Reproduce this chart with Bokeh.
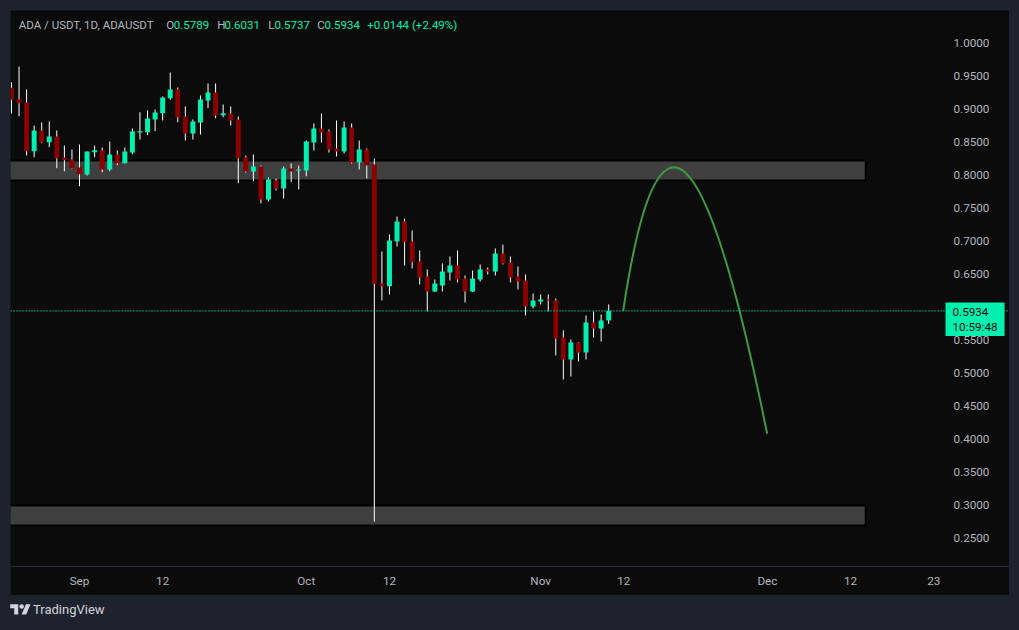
import numpy as np
import pandas as pd
from bokeh.plotting import figure
from bokeh.models import (ColumnDataSource, Range1d, FixedTicker, NumeralTickFormatter,
                          Label, Span, Div, GlobalInlineStyleSheet)
from bokeh.layouts import column
from bokeh.embed import file_html
from bokeh.resources import INLINE
from bokeh.core.properties import value

# ---------------- data ----------------
first_day = "2025-08-23"
opens = [0.9314, 0.9136, 0.9091, 0.8353, 0.8667, 0.8489, 0.8576, 0.8258, 0.8227,
         0.8106, 0.8000, 0.8338, 0.8364, 0.8076, 0.8303, 0.8171, 0.8333, 0.8636, 0.8641,
         0.8833, 0.8929, 0.9156, 0.9288, 0.8879, 0.8621, 0.8788, 0.9121, 0.9242, 0.8899,
         0.8924, 0.8829, 0.8258, 0.8045, 0.8121, 0.7621, 0.7909, 0.7788, 0.8091, 0.8061,
         0.8061, 0.8485, 0.8697, 0.8652, 0.8394, 0.8349, 0.8712, 0.8182, 0.8379, 0.8152,
         0.6348, 0.6308, 0.6985, 0.7288, 0.6985, 0.6682, 0.6455, 0.6227, 0.6318, 0.6515,
         0.6621, 0.6424, 0.6227, 0.6409, 0.6561, 0.6530, 0.6803, 0.6667, 0.6455, 0.6394,
         0.6000, 0.6076, 0.6106, 0.6091, 0.5530, 0.5197, 0.5455, 0.5303, 0.5758, 0.5667,
         0.5789]
highs = [0.9399, 0.9636, 0.9288, 0.8742, 0.8788, 0.8803, 0.8667, 0.8439, 0.8379,
         0.8455, 0.8349, 0.8439, 0.8409, 0.8500, 0.8364, 0.8409, 0.8697, 0.8944, 0.8970,
         0.8985, 0.9182, 0.9545, 0.9318, 0.9030, 0.8833, 0.9197, 0.9379, 0.9379, 0.9061,
         0.9030, 0.8879, 0.8288, 0.8303, 0.8136, 0.7955, 0.7939, 0.8121, 0.8167, 0.8136,
         0.8515, 0.8773, 0.8924, 0.8682, 0.8818, 0.8803, 0.8773, 0.8515, 0.8394, 0.8242,
         0.6833, 0.7091, 0.7364, 0.7333, 0.7152, 0.6848, 0.6561, 0.6409, 0.6652, 0.6758,
         0.6848, 0.6470, 0.6545, 0.6636, 0.6591, 0.6879, 0.6939, 0.6758, 0.6606, 0.6485,
         0.6197, 0.6182, 0.6182, 0.6121, 0.5636, 0.5500, 0.5460, 0.5864, 0.5924, 0.5879,
         0.6031]
lows = [0.8924, 0.8883, 0.8288, 0.8262, 0.8474, 0.8414, 0.8095, 0.8050, 0.8090,
        0.7823, 0.7985, 0.8262, 0.8035, 0.8050, 0.8141, 0.8167, 0.8308, 0.8530, 0.8596,
        0.8657, 0.8818, 0.9132, 0.8792, 0.8515, 0.8530, 0.8606, 0.9005, 0.8853, 0.8868,
        0.8742, 0.7868, 0.8030, 0.7898, 0.7561, 0.7591, 0.7758, 0.7636, 0.7884, 0.7773,
        0.7974, 0.8364, 0.8485, 0.8333, 0.8273, 0.8318, 0.8167, 0.8076, 0.7939, 0.2742,
        0.6091, 0.6182, 0.6909, 0.6621, 0.6576, 0.6333, 0.5924, 0.6220, 0.6227, 0.6394,
        0.6364, 0.6061, 0.6220, 0.6379, 0.6485, 0.6470, 0.6636, 0.6364, 0.6258, 0.5864,
        0.5970, 0.6030, 0.5924, 0.5258, 0.4894, 0.4939, 0.5167, 0.5197, 0.5530, 0.5470,
        0.5737]
closes = [0.9132, 0.9080, 0.8353, 0.8667, 0.8485, 0.8576, 0.8247, 0.8217, 0.8095,
          0.8005, 0.8349, 0.8368, 0.8076, 0.8303, 0.8171, 0.8349, 0.8652, 0.8657, 0.8848,
          0.8939, 0.9167, 0.9288, 0.8868, 0.8621, 0.8803, 0.9136, 0.9242, 0.8894, 0.8929,
          0.8818, 0.8247, 0.8045, 0.8121, 0.7621, 0.7924, 0.7788, 0.8091, 0.8045, 0.8076,
          0.8500, 0.8697, 0.8636, 0.8379, 0.8349, 0.8712, 0.8182, 0.8379, 0.8136, 0.6344,
          0.6308, 0.7000, 0.7288, 0.6974, 0.6671, 0.6439, 0.6227, 0.6348, 0.6530, 0.6621,
          0.6409, 0.6227, 0.6424, 0.6561, 0.6530, 0.6803, 0.6652, 0.6439, 0.6379, 0.6000,
          0.6091, 0.6106, 0.6091, 0.5515, 0.5197, 0.5455, 0.5303, 0.5758, 0.5667, 0.5788,
          0.5934]

zone_starts = ["2025-08-01", "2025-08-01"]
zone_ends = ["2025-12-14", "2025-12-14"]
zone_tops = [0.8212, 0.2985]
zone_bottoms = [0.7909, 0.2682]

arc_start_date, arc_start_price = "2025-11-11 22:00", 0.5934
arc_ctrl_date, arc_ctrl_price = "2025-11-18 15:30", 1.107
arc_end_date, arc_end_price = "2025-11-30 23:00", 0.4071

last_price = 0.5934
countdown = "10:59:48"

price_ticks = [0.25, 0.30, 0.35, 0.40, 0.45, 0.50, 0.55, 0.65, 0.70,
               0.75, 0.80, 0.85, 0.90, 0.95, 1.00]
time_tick_dates = ["2025-09-01", "2025-09-12", "2025-10-01", "2025-10-12", "2025-11-01",
                   "2025-11-12", "2025-12-01", "2025-12-12", "2025-12-23"]
time_tick_labels = ["Sep", "12", "Oct", "12", "Nov", "12", "Dec", "12", "23"]

header_texts = ["ADA / USDT, 1D, ADAUSDT", "O", "0.5789", "H", "0.6031", "L", "0.5737",
                "C", "0.5934", "+0.0144 (+2.49%)"]
header_is_value = [False, False, True, False, True, False, True, False, True, True]

# ---------------- styling ----------------
GREEN = "#00f0b0"
RED = "#8a0000"
WICK = "#ffffff"
PANEL = "#0b0b0b"
OUTER = "#1e222d"
TEXT = "#b2b5be"
ZONE_FILL = "#3f3f3f"
ARC = "#3d9a3f"
FONT = "Roboto"

DAY = 86400000
def ms(s):
    return int(pd.Timestamp(s).value // 10**6)

OX, OY = 10, 10          # page position of the figure
W, H = 999, 585
BB = 29                   # time scale height
FW, FH = W, H - BB        # frame covers the whole panel width (price scale drawn inside)
x_start = ms("2025-09-01") - 9.127 * DAY
x_end = x_start + FW / 7.56 * DAY
y_end = 1.0 + 32.0 / 660
y_start = y_end - FH / 660

def px_x(px):
    return x_start + (px - OX) / FW * (x_end - x_start)

def px_y(py):
    return y_end - (py - OY) / FH * (y_end - y_start)

# ---------------- sources ----------------
dates = pd.date_range(first_day, periods=len(opens), freq="D")
o = np.array(opens); c = np.array(closes)
bot = np.minimum(o, c)
top = np.maximum(np.maximum(o, c), bot + 0.0016)
candles = ColumnDataSource(dict(
    date=dates, high=highs, low=lows, top=top, bottom=bot,
    color=[GREEN if cc >= oo else RED for oo, cc in zip(opens, closes)]))

zones = ColumnDataSource(dict(
    left=[pd.Timestamp(s) for s in zone_starts], right=[pd.Timestamp(s) for s in zone_ends],
    top=zone_tops, bottom=zone_bottoms))

# ---------------- figure ----------------
p = figure(width=W, height=H, x_axis_type="datetime", y_axis_location="right",
           x_range=Range1d(x_start, x_end), y_range=Range1d(y_start, y_end),
           output_backend="svg", toolbar_location=None,
           background_fill_color=PANEL, border_fill_color=PANEL,
           min_border_left=0, min_border_top=0, min_border_right=0, min_border_bottom=BB,
           outline_line_color=None)
p.margin = (OY, 0, 0, OX)
p.grid.visible = False

p.quad(left="left", right="right", top="top", bottom="bottom", source=zones,
       fill_color=ZONE_FILL, line_color="#000000", line_width=2)

p.segment(x0="date", y0="low", x1="date", y1="high", source=candles,
          line_color=WICK, line_width=1)
p.vbar(x="date", width=0.66 * DAY, top="top", bottom="bottom", source=candles,
       fill_color="color", line_color=None)

p.quadratic(x0=[pd.Timestamp(arc_start_date)], y0=[arc_start_price],
            x1=[pd.Timestamp(arc_end_date)], y1=[arc_end_price],
            cx=[pd.Timestamp(arc_ctrl_date)], cy=[arc_ctrl_price],
            line_color=ARC, line_width=2)

p.add_layout(Span(location=last_price, dimension="width", line_color=GREEN,
                  line_dash="1 2", line_width=1.3))

# header
header_px = [18.3, 165.7, 173.3, 216.7, 224.0, 267.7, 274.0, 316.7, 324.0, 366.7]
hdr = ColumnDataSource(dict(
    x=[px_x(v) for v in header_px], y=[px_y(24.3)] * len(header_texts),
    text=header_texts, color=[GREEN if v else TEXT for v in header_is_value]))
p.text(x="x", y="y", text="text", source=hdr, text_color="color",
       text_font=value(FONT), text_font_size="11.5px", text_baseline="middle",
       text_align="left")

# axes
xa = p.xaxis[0]
tick_ms = [ms(d) for d in time_tick_dates]
xa.ticker = FixedTicker(ticks=tick_ms)
xa.major_label_overrides = {t: lab for t, lab in zip(tick_ms, time_tick_labels)}
xa.axis_line_color = "#2a2e39"
xa.major_tick_line_color = None
xa.minor_tick_line_color = None
xa.major_tick_out = 0
xa.major_label_standoff = 7
xa.major_label_text_color = TEXT
xa.major_label_text_font = FONT
xa.major_label_text_font_size = "11.7px"

ya = p.yaxis[0]
ya.fixed_location = px_x(943)   # price scale sits at the right edge of the chart area
ya.ticker = FixedTicker(ticks=price_ticks)
ya.formatter = NumeralTickFormatter(format="0.0000")
ya.axis_line_color = None
ya.major_tick_line_color = None
ya.minor_tick_line_color = None
ya.major_tick_out = 0
ya.major_label_standoff = 10
ya.major_label_text_color = TEXT
ya.major_label_text_font = FONT
ya.major_label_text_font_size = "11.7px"

# last price box over the price scale (box anchored at its top-left corner)
p.add_layout(Label(x=px_x(945), y=px_y(302), text=f"{last_price:.4f}\n{countdown}",
                   text_align="left", text_baseline="top",
                   text_color="#0b0b0b", text_font=FONT, text_font_size="11.7px",
                   text_line_height=1.1, background_fill_color=GREEN,
                   padding=(7, 7, 2, 2), level="overlay"))

logo_svg = ('<svg width="21" height="16" viewBox="0 0 36 28" style="vertical-align:middle">'
            '<path d="M14 22H7V11H0V4h14v18zM28 22h-8l7.5-18h8L28 22z" fill="#d1d4dc"/>'
            '<circle cx="20" cy="8" r="4" fill="#d1d4dc"/></svg>')
logo = Div(text=f'<div style="display:flex;align-items:center;gap:2px;color:#d1d4dc;'
                f'font-family:Roboto;font-size:13px;">{logo_svg}<span>TradingView</span></div>',
           width=200, height=28, margin=(6, 0, 0, 10))

layout = column(p, logo)
layout.stylesheets = [GlobalInlineStyleSheet(
    css=f"html, body {{ background-color: {OUTER}; margin: 0; padding: 0; }}")]

open("out.html", "w").write(file_html(layout, INLINE, title="ADA / USDT"))
